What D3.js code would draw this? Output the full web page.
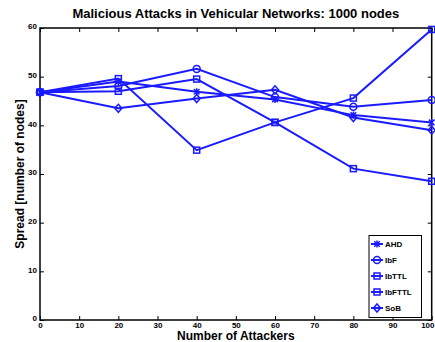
<!DOCTYPE html>
<html><head><meta charset="utf-8">
<script src="https://cdn.jsdelivr.net/npm/d3@7"></script>
<style>body{margin:0;background:#fff}svg{display:block}text{font-family:"Liberation Sans",Arial,sans-serif;font-weight:bold}</style>
</head><body>
<script>
const attackers = [0, 20, 40, 60, 80, 100];
const seriesNames = ["AHD", "IbF", "IbTTL", "IbFTTL", "SoB"];
const markers = ["star", "circle", "square", "square", "diamond"];
const AHD    = [46.8, 49.0, 46.9, 45.3, 42.1, 40.6];
const IbF    = [46.8, 48.1, 51.6, 45.8, 43.8, 45.2];
const IbTTL  = [46.8, 49.6, 34.9, 40.6, 45.6, 59.7];
const IbFTTL = [46.8, 47.0, 49.5, 40.6, 31.1, 28.5];
const SoB    = [46.8, 43.5, 45.5, 47.3, 41.6, 39.0];
const xTicks = [0,10,20,30,40,50,60,70,80,90,100];
const yTicks = [0,10,20,30,40,50,60];
const values = [AHD, IbF, IbTTL, IbFTTL, SoB];

const W = 435, H = 342;
const L = 40, R = 431.7, T = 28, B = 320;
const color = "#1a1aff";
const svg = d3.select("body").append("svg").attr("width", W).attr("height", H);
const x = d3.scaleLinear().domain([0,100]).range([L,R]);
const y = d3.scaleLinear().domain([0,60]).range([B,T]);

const gx = svg.append("g").attr("transform",`translate(0,${B})`)
  .call(d3.axisBottom(x).tickValues(xTicks).tickSizeInner(-4).tickSizeOuter(0).tickPadding(4));
const gxt = svg.append("g").attr("transform",`translate(0,${T})`)
  .call(d3.axisTop(x).tickValues(xTicks).tickSizeInner(-4).tickSizeOuter(0).tickFormat(""));
const gy = svg.append("g").attr("transform",`translate(${L},0)`)
  .call(d3.axisLeft(y).tickValues(yTicks).tickSizeInner(-4).tickSizeOuter(0).tickPadding(3));
const gyr = svg.append("g").attr("transform",`translate(${R},0)`)
  .call(d3.axisRight(y).tickValues(yTicks).tickSizeInner(-4).tickSizeOuter(0).tickFormat(""));
[gx,gxt,gy,gyr].forEach(g=>{
  g.select(".domain").remove();
  g.selectAll("line").attr("stroke","#000").attr("stroke-width",1);
  g.selectAll("text").attr("font-size",8).attr("fill","#000")
   .style("font-family",'"Liberation Sans",Arial,sans-serif').style("font-weight","bold");
});
gy.selectAll("text").attr("dy","0.1em");
gx.selectAll("text").attr("dy","0.5em");
gx.selectAll(".tick").filter(d=>d===100).select("text").attr("text-anchor","end").attr("x",W-1-R);
svg.append("rect").attr("x",L).attr("y",T).attr("width",R-L).attr("height",B-T)
  .attr("fill","none").attr("stroke","#000").attr("stroke-width",1.5);

function drawMarker(g, type, cx, cy, s){
  const r = s;
  if(type==="circle") g.append("circle").attr("cx",cx).attr("cy",cy).attr("r",r).attr("fill","none").attr("stroke",color).attr("stroke-width",1.5);
  else if(type==="square") g.append("rect").attr("x",cx-r+0.5).attr("y",cy-r+0.5).attr("width",2*r-1).attr("height",2*r-1).attr("fill","none").attr("stroke",color).attr("stroke-width",1.5);
  else if(type==="diamond") g.append("path").attr("d",`M${cx},${cy-r-0.5}L${cx+r},${cy}L${cx},${cy+r+0.5}L${cx-r},${cy}Z`).attr("fill","none").attr("stroke",color).attr("stroke-width",1.5);
  else if(type==="star"){
    const a=r*0.8;
    g.append("path").attr("d",`M${cx-a},${cy-a}L${cx+a},${cy+a}M${cx-a},${cy+a}L${cx+a},${cy-a}M${cx},${cy-r}L${cx},${cy+r}`)
      .attr("stroke",color).attr("stroke-width",1.5);
  }
}

const line = d3.line().x((d,i)=>x(attackers[i])).y(d=>y(d));
values.forEach((vals,k)=>{
  const g = svg.append("g");
  g.append("path").datum(vals).attr("d",line).attr("fill","none").attr("stroke",color).attr("stroke-width",2);
  vals.forEach((v,i)=>drawMarker(g, markers[k], x(attackers[i]), y(v), 3.5));
});

const lg = svg.append("g");
lg.append("rect").attr("x",369).attr("y",235.5).attr("width",52.5).attr("height",82)
  .attr("fill","#fff").attr("stroke","#000").attr("stroke-width",1);
seriesNames.forEach((n,k)=>{
  const yy = 244 + k*16;
  lg.append("line").attr("x1",371).attr("x2",383).attr("y1",yy).attr("y2",yy).attr("stroke",color).attr("stroke-width",2);
  drawMarker(lg, markers[k], 377, yy, 3.5);
  lg.append("text").attr("x",385).attr("y",yy).attr("dy","0.35em").attr("font-size",8).text(n);
});

svg.append("text").attr("x",(L+R)/2).attr("y",18).attr("text-anchor","middle").attr("font-size",13).text("Malicious Attacks in Vehicular Networks: 1000 nodes");
svg.append("text").attr("x",(L+R)/2).attr("y",340).attr("text-anchor","middle").attr("font-size",12).text("Number of Attackers");
svg.append("text").attr("transform",`translate(24,${(T+B)/2}) rotate(-90)`).attr("text-anchor","middle").attr("font-size",12).text("Spread [number of nodes]");
</script>
</body></html>
